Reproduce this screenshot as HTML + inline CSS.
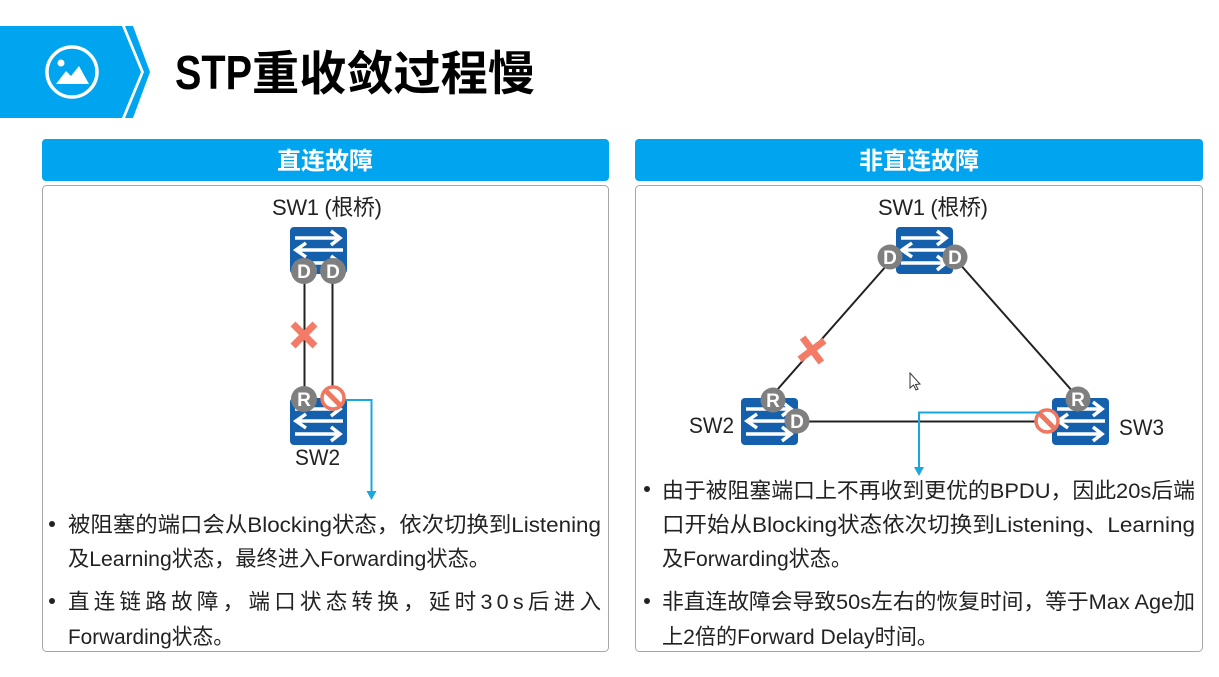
<!DOCTYPE html>
<html lang="zh"><head><meta charset="utf-8"><title>STP重收敛过程慢</title>
<style>
html,body{margin:0;padding:0;background:#fff;width:1219px;height:677px;overflow:hidden}
svg{display:block}
text{font-family:"Liberation Sans","Noto Sans CJK SC",sans-serif}
.b{font-size:21.5px;fill:#222}
.l{font-size:22px;fill:#222}
.h{font-size:24px;font-weight:bold;fill:#fff;text-anchor:middle}
.p{font-size:19px;font-weight:bold;fill:#fff;text-anchor:middle}
</style></head><body>
<svg width="1219" height="677" viewBox="0 0 1219 677" xmlns="http://www.w3.org/2000/svg">
<defs>
<g id="sw">
<rect x="0" y="0" width="57" height="47" rx="4" fill="#1560ad"/>
<g fill="none" stroke="#fff" stroke-width="3.5">
<path d="M5 11H49M41 4L50 11L41 18"/>
<path d="M53 23H8M16 16L6 23L16 30"/>
<path d="M5 36H49M41 29L50 36L41 43"/>
</g>
</g>
<g id="no">
<circle r="11" fill="#fff" stroke="#f0775f" stroke-width="3.500"/>
<path d="M-7.500-7.500L7.500 7.500" stroke="#f0775f" stroke-width="5"/>
</g>
<path id="x" d="M-11-11L11 11M11-11L-11 11" stroke="#f47c67" stroke-width="7" fill="none"/>
</defs>

<!-- banner -->
<path d="M0 26H122L141 72L122 118H0Z" fill="#00a4ef"/>
<path d="M125 26H133L150 72L133 118H125L144 72Z" fill="#00a4ef"/>
<circle cx="72" cy="72" r="25" fill="none" stroke="#fff" stroke-width="3.500"/>
<circle cx="61" cy="63" r="3.500" fill="#fff"/>
<path d="M56 84L66 71L71 76L79 66L89 84Z" fill="#fff"/>
<text x="175" y="89" font-size="48" font-weight="bold" fill="#000" textLength="77" lengthAdjust="spacingAndGlyphs">STP</text>
<text x="252" y="90" font-size="47" font-weight="bold" fill="#000" textLength="283" lengthAdjust="spacingAndGlyphs">重收敛过程慢</text>

<!-- panels -->
<rect x="42" y="139" width="567" height="42" rx="4" fill="#00a4ef"/>
<rect x="635" y="139" width="568" height="42" rx="4" fill="#00a4ef"/>
<text class="h" x="325" y="169">直连故障</text>
<text class="h" x="919" y="169">非直连故障</text>
<rect x="42.500" y="185.500" width="566" height="466" rx="4" fill="#fff" stroke="#a6a6a6"/>
<rect x="635.500" y="185.500" width="567" height="466" rx="4" fill="#fff" stroke="#a6a6a6"/>

<!-- left diagram -->
<text class="l" x="272" y="215" textLength="110" lengthAdjust="spacing">SW1 (根桥)</text>
<use href="#sw" x="290" y="227"/>
<path d="M304.500 280V388M332.500 280V388" stroke="#222" stroke-width="2" fill="none"/>
<circle cx="304" cy="271" r="13" fill="#7f7f7f"/><text class="p" x="304" y="278">D</text>
<circle cx="333" cy="271" r="13" fill="#7f7f7f"/><text class="p" x="333" y="278">D</text>
<use href="#x" x="304" y="335"/>
<use href="#sw" x="290" y="398"/>
<circle cx="304" cy="399" r="13" fill="#7f7f7f"/><text class="p" x="304" y="406">R</text>
<use href="#no" x="333" y="398"/>
<path d="M346 400H371.500V492" stroke="#1ba7dc" stroke-width="2" fill="none"/>
<path d="M366.500 491H376.500L371.500 500Z" fill="#1ba7dc"/>
<text class="l" x="295" y="465" textLength="45" lengthAdjust="spacingAndGlyphs">SW2</text>

<!-- right diagram -->
<text class="l" x="878" y="215" textLength="110" lengthAdjust="spacing">SW1 (根桥)</text>
<path d="M887 265L777 390M958 262L1074 393M797 421.500H1040" stroke="#222" stroke-width="2" fill="none"/>
<use href="#sw" x="896" y="227"/>
<circle cx="890" cy="257" r="12.500" fill="#7f7f7f"/><text class="p" x="890" y="264">D</text>
<circle cx="955" cy="257" r="12.500" fill="#7f7f7f"/><text class="p" x="955" y="264">D</text>
<use href="#x" transform="translate(812 350) rotate(8)"/>
<use href="#sw" x="741" y="398"/>
<circle cx="773" cy="400" r="12.500" fill="#7f7f7f"/><text class="p" x="773" y="407">R</text>
<circle cx="797" cy="421" r="12.500" fill="#7f7f7f"/><text class="p" x="797" y="428">D</text>
<text class="l" x="689" y="433" textLength="45" lengthAdjust="spacingAndGlyphs">SW2</text>
<use href="#sw" x="1052" y="398"/>
<circle cx="1078" cy="399" r="12.500" fill="#7f7f7f"/><text class="p" x="1078" y="406">R</text>
<use href="#no" x="1047" y="421"/>
<text class="l" x="1119" y="435" textLength="45" lengthAdjust="spacingAndGlyphs">SW3</text>
<path d="M1040 412.500H919V468" stroke="#1ba7dc" stroke-width="2" fill="none"/>
<path d="M914 467H924L919 476Z" fill="#1ba7dc"/>
<path d="M910 373V388L913.500 385L916 390L918 389L915.500 384.500L920 384Z" fill="#fff" stroke="#333" stroke-width="1"/>

<!-- left text -->
<circle cx="52" cy="524" r="3" fill="#222"/>
<text class="b" x="68" y="532" textLength="533" lengthAdjust="spacingAndGlyphs">被阻塞的端口会从Blocking状态，依次切换到Listening</text>
<text class="b" x="68" y="566" textLength="422" lengthAdjust="spacingAndGlyphs">及Learning状态，最终进入Forwarding状态。</text>
<circle cx="52" cy="601" r="3" fill="#222"/>
<text class="b" x="68" y="609" textLength="533" lengthAdjust="spacing">直连链路故障，端口状态转换，延时30s后进入</text>
<text class="b" x="68" y="644" textLength="166" lengthAdjust="spacingAndGlyphs">Forwarding状态。</text>

<!-- right text -->
<circle cx="647" cy="489" r="3" fill="#222"/>
<text class="b" x="662" y="498" textLength="533" lengthAdjust="spacingAndGlyphs">由于被阻塞端口上不再收到更优的BPDU，因此20s后端</text>
<text class="b" x="662" y="532" textLength="533" lengthAdjust="spacingAndGlyphs">口开始从Blocking状态依次切换到Listening、Learning</text>
<text class="b" x="662" y="566" textLength="190" lengthAdjust="spacingAndGlyphs">及Forwarding状态。</text>
<circle cx="647" cy="601" r="3" fill="#222"/>
<text class="b" x="662" y="609" textLength="533" lengthAdjust="spacingAndGlyphs">非直连故障会导致50s左右的恢复时间，等于Max Age加</text>
<text class="b" x="662" y="644" textLength="276" lengthAdjust="spacingAndGlyphs">上2倍的Forward Delay时间。</text>
</svg>
</body></html>
